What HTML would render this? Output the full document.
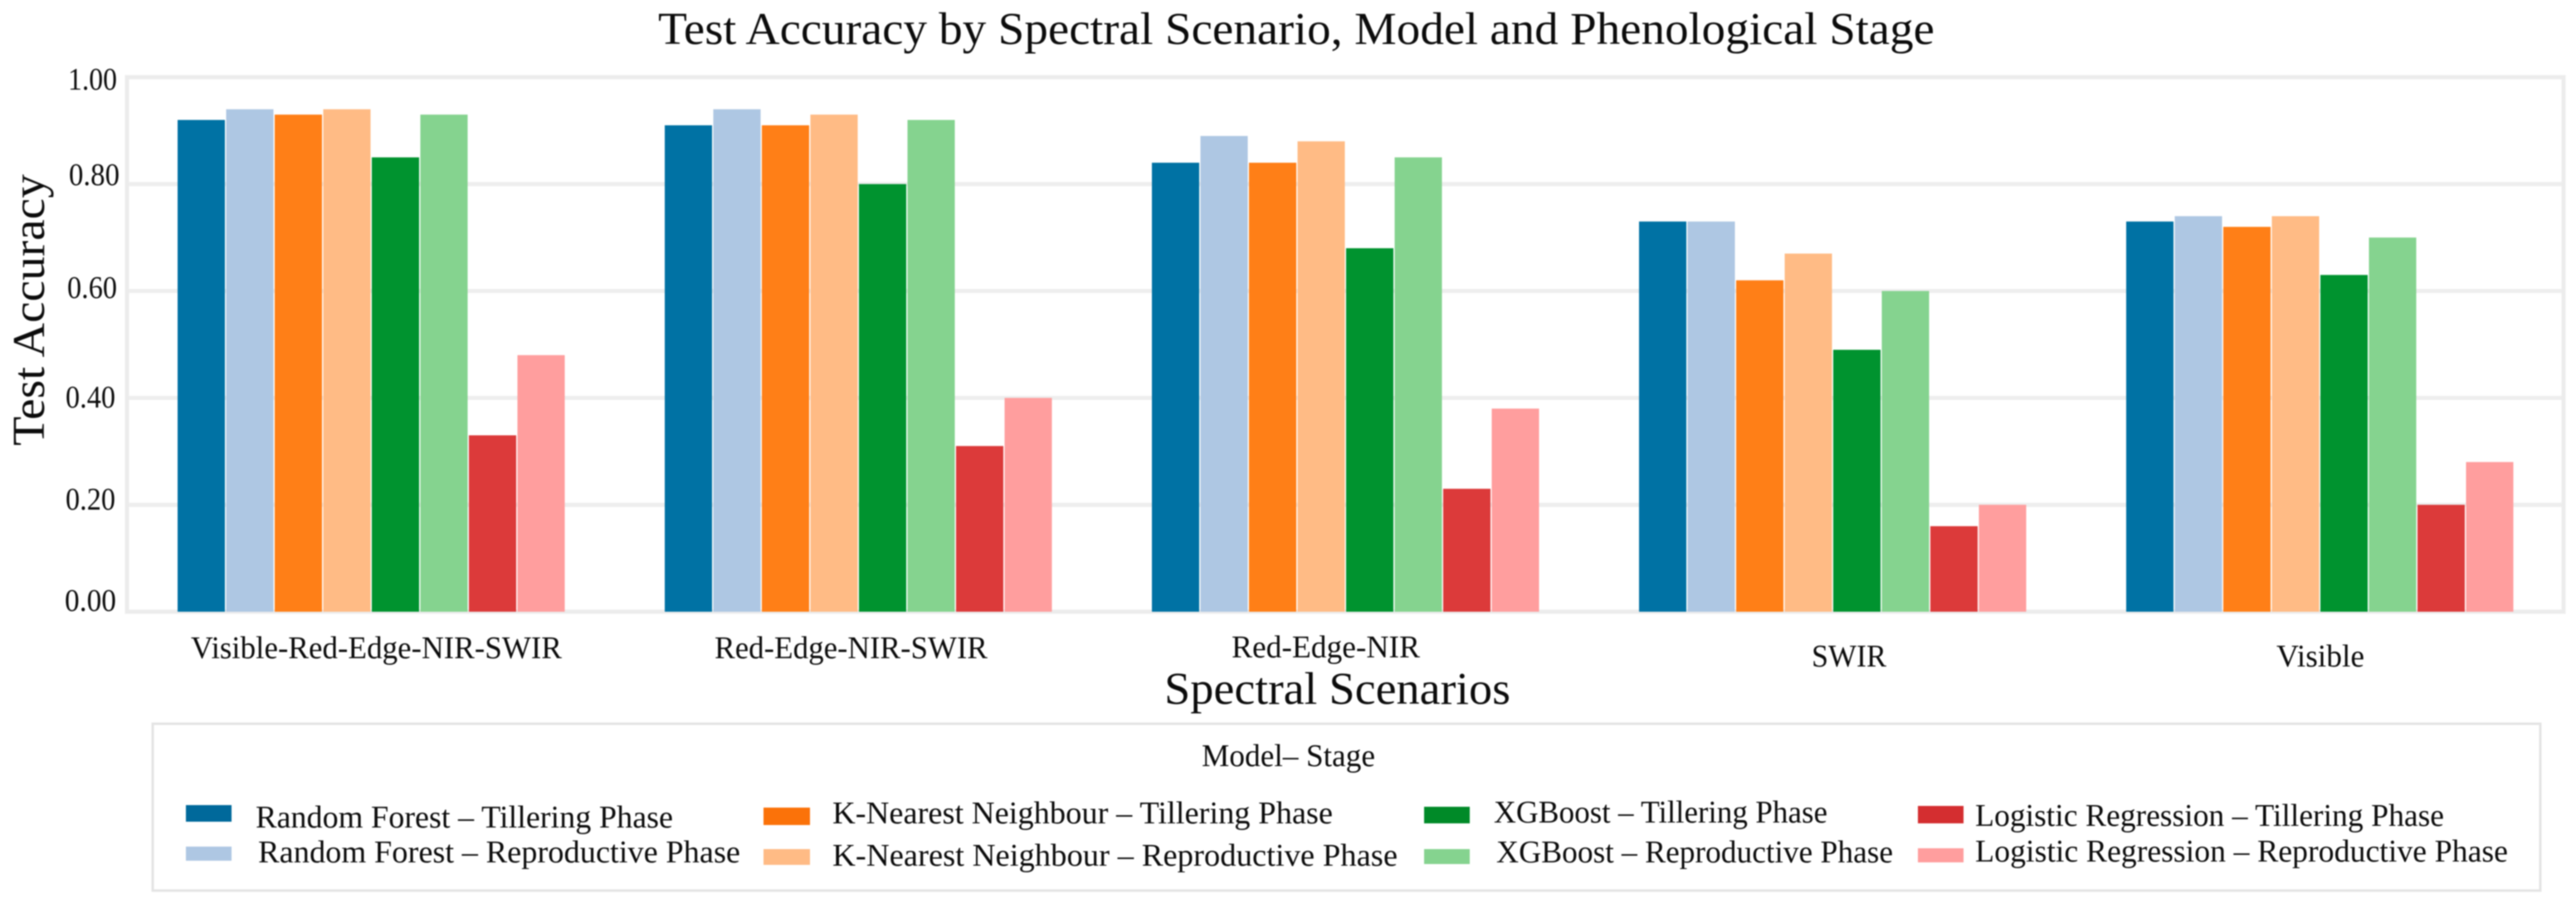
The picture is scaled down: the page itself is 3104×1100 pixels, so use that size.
<!DOCTYPE html>
<html lang="en">
<head>
<meta charset="utf-8">
<title>Test Accuracy by Spectral Scenario, Model and Phenological Stage</title>
<style>
  html, body { margin: 0; padding: 0; background: #fff; }
  body { width: 3104px; height: 1100px; overflow: hidden; }
  svg { display: block; filter: blur(0.8px); }
  text { font-family: "Liberation Serif", serif; fill: #0c0c0c; }
  .tick { font-size: 38px; }
  .cat { font-size: 38px; }
  .leg { font-size: 38px; }
</style>
</head>
<body>
<svg id="chart" xmlns="http://www.w3.org/2000/svg" width="3104" height="1100" viewBox="0 0 3104 1100">
  <rect x="0" y="0" width="3104" height="1100" fill="#ffffff"/>
  <text x="793" y="53" font-size="55" textLength="1538" lengthAdjust="spacingAndGlyphs">Test Accuracy by Spectral Scenario, Model and Phenological Stage</text>

  <g id="grid"></g>
  <rect x="153" y="93" width="2936" height="644" fill="none" stroke="#ececec" stroke-width="5"/>
  <g id="bars"></g>

  <text transform="translate(53,537) rotate(-90)" font-size="55" textLength="327" lengthAdjust="spacingAndGlyphs">Test Accuracy</text>
  <g>
    <text class="tick" x="82" y="108" textLength="59" lengthAdjust="spacingAndGlyphs">1.00</text>
    <text class="tick" x="83" y="223" textLength="61" lengthAdjust="spacingAndGlyphs">0.80</text>
    <text class="tick" x="81" y="359" textLength="60" lengthAdjust="spacingAndGlyphs">0.60</text>
    <text class="tick" x="79" y="491" textLength="60" lengthAdjust="spacingAndGlyphs">0.40</text>
    <text class="tick" x="79" y="614" textLength="60" lengthAdjust="spacingAndGlyphs">0.20</text>
    <text class="tick" x="78" y="736" textLength="62" lengthAdjust="spacingAndGlyphs">0.00</text>
  </g>

  <g>
    <text class="cat" x="230" y="793" textLength="447" lengthAdjust="spacingAndGlyphs">Visible-Red-Edge-NIR-SWIR</text>
    <text class="cat" x="861" y="793" textLength="329" lengthAdjust="spacingAndGlyphs">Red-Edge-NIR-SWIR</text>
    <text class="cat" x="1484" y="792" textLength="227" lengthAdjust="spacingAndGlyphs">Red-Edge-NIR</text>
    <text class="cat" x="2183" y="803" textLength="90" lengthAdjust="spacingAndGlyphs">SWIR</text>
    <text class="cat" x="2743" y="803" textLength="106" lengthAdjust="spacingAndGlyphs">Visible</text>
  </g>
  <text x="1403" y="848" font-size="55" textLength="417" lengthAdjust="spacingAndGlyphs">Spectral Scenarios</text>

  <g>
    <rect x="184" y="872" width="2877" height="201" fill="#fff" stroke="#e4e4e4" stroke-width="3"/>
    <text class="leg" x="1448" y="923" textLength="209" lengthAdjust="spacingAndGlyphs">Model– Stage</text>

    <rect x="224" y="970" width="55" height="20" fill="#00699b"/>
    <text class="leg" x="308" y="997" textLength="503" lengthAdjust="spacingAndGlyphs">Random Forest – Tillering Phase</text>
    <rect x="224" y="1020" width="55" height="17" fill="#aec7e3"/>
    <text class="leg" x="311" y="1039" textLength="581" lengthAdjust="spacingAndGlyphs">Random Forest – Reproductive Phase</text>

    <rect x="920" y="973" width="56" height="21" fill="#fb7209"/>
    <text class="leg" x="1003" y="992" textLength="603" lengthAdjust="spacingAndGlyphs">K-Nearest Neighbour – Tillering Phase</text>
    <rect x="920" y="1023" width="56" height="19" fill="#ffbb85"/>
    <text class="leg" x="1003" y="1043" textLength="681" lengthAdjust="spacingAndGlyphs">K-Nearest Neighbour – Reproductive Phase</text>

    <rect x="1716" y="972" width="55" height="20" fill="#008a28"/>
    <text class="leg" x="1800" y="991" textLength="402" lengthAdjust="spacingAndGlyphs">XGBoost – Tillering Phase</text>
    <rect x="1716" y="1023" width="55" height="18" fill="#85d38f"/>
    <text class="leg" x="1803" y="1039" textLength="478" lengthAdjust="spacingAndGlyphs">XGBoost – Reproductive Phase</text>

    <rect x="2311" y="971" width="55" height="21" fill="#d42e30"/>
    <text class="leg" x="2380" y="995" textLength="565" lengthAdjust="spacingAndGlyphs">Logistic Regression – Tillering Phase</text>
    <rect x="2311" y="1022" width="55" height="17" fill="#ff9e9e"/>
    <text class="leg" x="2380" y="1038" textLength="642" lengthAdjust="spacingAndGlyphs">Logistic Regression – Reproductive Phase</text>
  </g>
</svg>
<script>
const categories = ['Visible-Red-Edge-NIR-SWIR', 'Red-Edge-NIR-SWIR', 'Red-Edge-NIR', 'SWIR', 'Visible'];
const yTicks = [0, 0.2, 0.4, 0.6, 0.8, 1.0];
const seriesNames = ['rf-tillering', 'rf-reproductive', 'knn-tillering', 'knn-reproductive', 'xgb-tillering', 'xgb-reproductive', 'lr-tillering', 'lr-reproductive'];
const rfTillering = [0.92, 0.91, 0.84, 0.73, 0.73];
const rfReproductive = [0.94, 0.94, 0.89, 0.73, 0.74];
const knnTillering = [0.93, 0.91, 0.84, 0.62, 0.72];
const knnReproductive = [0.94, 0.93, 0.88, 0.67, 0.74];
const xgbTillering = [0.85, 0.80, 0.68, 0.49, 0.63];
const xgbReproductive = [0.93, 0.92, 0.85, 0.60, 0.70];
const lrTillering = [0.33, 0.31, 0.23, 0.16, 0.20];
const lrReproductive = [0.48, 0.40, 0.38, 0.20, 0.28];
const allSeries = [rfTillering, rfReproductive, knnTillering, knnReproductive, xgbTillering, xgbReproductive, lrTillering, lrReproductive];
const palette = ['#0072a4', '#aec7e3', '#ff7f17', '#ffbb85', '#00932f', '#85d38f', '#dc3a3a', '#ff9e9e'];

const NS = 'http://www.w3.org/2000/svg';
const plot = { left: 153, right: 3089, top: 93, bottom: 737, firstBar: 214, groupStep: 587, barStep: 58.5, barWidth: 57 };

function yScale(v) {
  return plot.bottom - v * (plot.bottom - plot.top);
}
function xScale(groupIndex, seriesIndex) {
  return plot.firstBar + groupIndex * plot.groupStep + seriesIndex * plot.barStep;
}

const gridLayer = document.getElementById('grid');
yTicks.forEach(function (t) {
  const line = document.createElementNS(NS, 'line');
  line.setAttribute('x1', plot.left);
  line.setAttribute('x2', plot.right);
  line.setAttribute('y1', yScale(t));
  line.setAttribute('y2', yScale(t));
  line.setAttribute('stroke', '#eeeeee');
  line.setAttribute('stroke-width', '5');
  
  
  gridLayer.appendChild(line);
});

const barLayer = document.getElementById('bars');
categories.forEach(function (cat, g) {
  allSeries.forEach(function (values, s) {
    const rect = document.createElementNS(NS, 'rect');
    rect.setAttribute('x', xScale(g, s));
    rect.setAttribute('y', yScale(values[g]));
    rect.setAttribute('width', plot.barWidth);
    rect.setAttribute('height', yScale(0) - yScale(values[g]));
    rect.setAttribute('fill', palette[s]);
    
    
    barLayer.appendChild(rect);
  });
});
</script>
</body>
</html>
